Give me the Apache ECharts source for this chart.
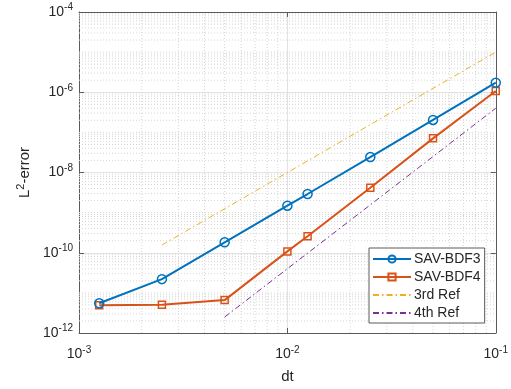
<!DOCTYPE html>
<html>
<head>
<meta charset="utf-8">
<script src="https://cdn.jsdelivr.net/npm/echarts@6/dist/echarts.min.js"></script>
<style>html,body{margin:0;padding:0;background:#fff;}#c{width:511px;height:389px;}</style>
</head>
<body>
<div id="c"></div>
<script>
const dt = [0.00125, 0.0025, 0.005, 0.01, 0.0125, 0.025, 0.05, 0.1];
const bdf3 = [5.5e-12, 2.2e-11, 1.82e-10, 1.49e-9, 2.91e-9, 2.43e-8, 2.04e-7, 1.73e-6];
const bdf4 = [4.9e-12, 5.07e-12, 6.6e-12, 1.08e-10, 2.57e-10, 4.18e-9, 7.1e-8, 1.07e-6];
const ref3Dt = [0.0025, 0.1];
const ref3 = [1.5625e-10, 1e-5];
const ref4Dt = [0.005, 0.1];
const ref4 = [2.5e-12, 4e-7];
const seriesNames = ['SAV-BDF3', 'SAV-BDF4', '3rd Ref', '4th Ref'];
const xMin = 1e-3, xMax = 1e-1, yMin = 1e-12, yMax = 1e-4;
const xMinExp = -3, xMaxExp = -1, yMinExp = -12, yMaxExp = -4;

const pairs = (xs, ys) => xs.map((x, i) => [x, ys[i]]);
// minor grid values (grid decoration, not data)
const xMinor = [];
for (let e = xMinExp; e < xMaxExp; e++) for (let m = 2; m <= 9; m++) xMinor.push(m * Math.pow(10, e));
const yMinor = [];
for (let e = yMinExp; e < yMaxExp; e++) {
  for (let m = 1; m <= 9; m++) {
    if (m === 1 && ((e - yMinExp) % 2 === 0)) continue;
    yMinor.push(m * Math.pow(10, e));
  }
}

const FONT = 'Liberation Sans, Arial, sans-serif';
const TXT = '#262626';
const supRich = {
  b: { fontSize: 14, color: TXT, fontFamily: FONT },
  s: { fontSize: 10, color: TXT, fontFamily: FONT, verticalAlign: 'bottom', padding: [0, 0, 9, 0] }
};
const expLabel = v => '{b|10}{s|' + Math.round(Math.log10(v)) + '}';

const AX = '#5a5a5a';
const axisLine = { show: true, lineStyle: { color: AX, width: 1 } };
const tick = { show: true, inside: true, length: 5, lineStyle: { color: AX } };
const majorGrid = { show: true, lineStyle: { color: '#e2e2e2', width: 1, type: 'solid' } };
const minorStyle = { stroke: '#d6d6d6', lineWidth: 1, lineDash: [1, 2] };

const chart = echarts.init(document.getElementById('c'), null, { renderer: 'canvas' });

chart.setOption({
  animation: false,
  backgroundColor: '#fff',
  grid: { left: 79, right: 15, top: 12, bottom: 56, containLabel: false },
  xAxis: [{
    type: 'log', logBase: 10, min: xMin, max: xMax, interval: 1,
    position: 'bottom', axisLine: axisLine, axisTick: tick, splitLine: majorGrid,
    axisLabel: { formatter: expLabel, rich: supRich, margin: 12 },
    name: 'dt', nameLocation: 'middle', nameGap: 36,
    nameTextStyle: { fontSize: 15, color: TXT, fontFamily: FONT }
  }, {
    type: 'log', logBase: 10, min: xMin, max: xMax, interval: 1,
    position: 'top', axisLine: axisLine, axisTick: tick,
    splitLine: { show: false }, axisLabel: { show: false }
  }],
  yAxis: [{
    type: 'log', logBase: 10, min: yMin, max: yMax, interval: 2,
    position: 'left', axisLine: axisLine, axisTick: tick, splitLine: majorGrid,
    axisLabel: { formatter: expLabel, rich: supRich, margin: 6 },
    name: '{a|L}{s|2}{a|-error}', nameLocation: 'middle', nameGap: 44, nameRotate: 90,
    nameTextStyle: {
      rich: {
        a: { fontSize: 15, color: TXT, fontFamily: FONT },
        s: { fontSize: 11, color: TXT, fontFamily: FONT, verticalAlign: 'bottom', padding: [0, 0, 8, 0] }
      }
    }
  }, {
    type: 'log', logBase: 10, min: yMin, max: yMax, interval: 2,
    position: 'right', axisLine: axisLine, axisTick: tick,
    splitLine: { show: false }, axisLabel: { show: false }
  }],
  legend: {
    data: [
      { name: seriesNames[0] },
      { name: seriesNames[1] },
      { name: seriesNames[2], itemStyle: { color: 'rgba(0,0,0,0)', borderWidth: 0 } },
      { name: seriesNames[3], itemStyle: { color: 'rgba(0,0,0,0)', borderWidth: 0 } }
    ],
    orient: 'vertical',
    left: 369, top: 248,
    backgroundColor: '#fff',
    borderColor: AX, borderWidth: 1, borderRadius: 0,
    padding: [4, 4, 3, 3],
    itemWidth: 38, itemHeight: 9, itemGap: 4,
    textStyle: { fontSize: 14, lineHeight: 14, color: TXT, fontFamily: FONT, padding: [0, 0, 0, -2] }
  },
  series: [
    {
      name: 'minor-x', type: 'custom', silent: true, z: 1,
      data: xMinor.map(v => [v, 1e-8]),
      encode: { x: 0, y: 1 },
      renderItem: (params, api) => {
        const v = api.value(0);
        const p1 = api.coord([v, yMin]);
        const p2 = api.coord([v, yMax]);
        return { type: 'line', shape: { x1: p1[0], y1: p1[1], x2: p2[0], y2: p2[1] }, style: minorStyle };
      }
    },
    {
      name: 'minor-y', type: 'custom', silent: true, z: 1,
      data: yMinor.map(v => [1e-2, v]),
      encode: { x: 0, y: 1 },
      renderItem: (params, api) => {
        const v = api.value(1);
        const p1 = api.coord([xMin, v]);
        const p2 = api.coord([xMax, v]);
        return { type: 'line', shape: { x1: p1[0], y1: p1[1], x2: p2[0], y2: p2[1] }, style: minorStyle };
      }
    },
    {
      name: seriesNames[2], type: 'line', data: pairs(ref3Dt, ref3),
      symbol: 'none', color: '#EDB120',
      lineStyle: { color: '#EDB120', width: 1, type: [6, 3, 1.5, 3] }, z: 3
    },
    {
      name: seriesNames[3], type: 'line', data: pairs(ref4Dt, ref4),
      symbol: 'none', color: '#7E2F8E',
      lineStyle: { color: '#7E2F8E', width: 1, type: [6, 3, 1.5, 3] }, z: 3
    },
    {
      name: seriesNames[1], type: 'line', data: pairs(dt, bdf4),
      symbol: 'rect', symbolSize: 7, showAllSymbol: true, color: '#D95319',
      lineStyle: { color: '#D95319', width: 2 },
      itemStyle: { color: 'rgba(255,255,255,0)', borderColor: '#D95319', borderWidth: 1.5 }, z: 4
    },
    {
      name: seriesNames[0], type: 'line', data: pairs(dt, bdf3),
      symbol: 'circle', symbolSize: 9, showAllSymbol: true, color: '#0072BD',
      lineStyle: { color: '#0072BD', width: 2 },
      itemStyle: { color: 'rgba(255,255,255,0)', borderColor: '#0072BD', borderWidth: 1.5 }, z: 5
    }
  ]
});
</script>
</body>
</html>
